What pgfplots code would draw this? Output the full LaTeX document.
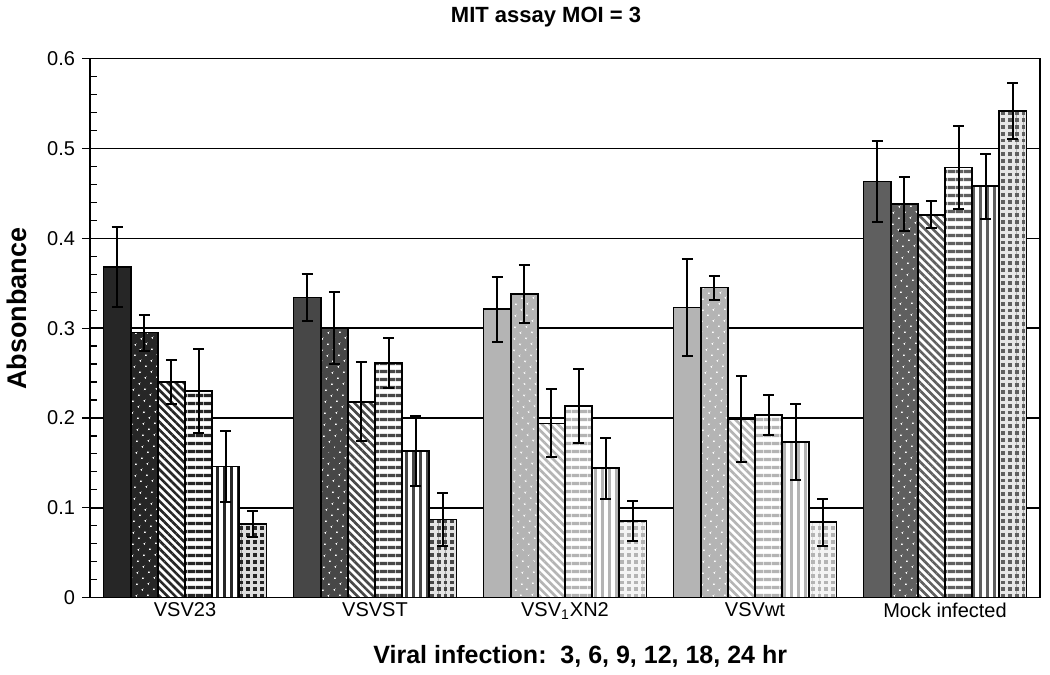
\documentclass[border=0pt]{standalone}
\usepackage{fontspec}
\setmainfont{Liberation Sans}
\usepackage{pgfplots}
\pgfplotsset{compat=1.18}
\usetikzlibrary{patterns,patterns.meta}
\definecolor{cA}{HTML}{262626}
\definecolor{cB}{HTML}{474747}
\definecolor{cC}{HTML}{B4B4B4}
\definecolor{cD}{HTML}{B4B4B4}
\definecolor{cE}{HTML}{5F5F5F}
\pgfplotsset{
  bb/.style={ybar, bar width=0.1429, bar shift=0pt, draw=black, line width=0.8pt},
  s1/.style={fill=#1},
  s2/.style={preaction={fill=#1}, pattern={Dots[distance=4pt,angle=45,radius=0.55pt]}, pattern color=white},
  s3/.style={preaction={fill=white}, pattern={Lines[angle=-45,distance=2.8pt,line width=1.3pt]}, pattern color=#1},
  s4/.style={preaction={fill=white}, pattern={Lines[angle=0,distance=4pt,line width=1.8pt]}, pattern color=#1},
  s5/.style={preaction={fill=white}, pattern={Lines[angle=90,distance=3.5pt,line width=1.5pt]}, pattern color=#1},
  s6/.style={preaction={fill=#1}, pattern={Hatch[angle=0,distance=3.4pt,line width=1.5pt]}, pattern color=white!85!#1},
}
\begin{document}
\begin{tikzpicture}
\begin{axis}[
  scale only axis, width=475pt, height=269.5pt,
  xmin=-0.5, xmax=4.5, ymin=0, ymax=0.6,
  ytick={0,0.1,0.2,0.3,0.4,0.5,0.6},
  minor y tick num=4,
  xtick={0,1,2,3,4},
  xticklabels={VSV23,VSVST,VSV\textsubscript{1}XN2,VSVwt,Mock infected},
  xtick style={draw=none},
  xticklabel style={yshift=5pt},
  ytick pos=left,
  tick align=outside,
  major tick length=4pt, minor tick length=3.5pt,
  ytick style={black, line width=0.6pt},
  minor y tick style={xshift=3.5pt},
  ymajorgrids, major grid style={black, line width=0.75pt},
  axis line style={black, line width=0.75pt},
  tick label style={font=\fontsize{10}{12}\selectfont},
  /pgf/number format/assume math mode=true,
]
\coordinate (ttl) at (rel axis cs:0.48,1);
\coordinate (xl) at (rel axis cs:0.516,0);
\coordinate (yl) at (rel axis cs:0,0.536);
\coordinate (bl) at (rel axis cs:0,0);
\coordinate (tr) at (rel axis cs:1,1);
% VSV23
\addplot[bb, s1=cA] coordinates {(-0.3571,0.368)};
\addplot[bb, s2=cA] coordinates {(-0.2143,0.295)};
\addplot[bb, s3=cA] coordinates {(-0.0714,0.240)};
\addplot[bb, s4=cA] coordinates {(0.0714,0.230)};
\addplot[bb, s5=cA] coordinates {(0.2143,0.146)};
\addplot[bb, s6=cA] coordinates {(0.3571,0.082)};
% VSVST
\addplot[bb, s1=cB] coordinates {(0.6429,0.334)};
\addplot[bb, s2=cB] coordinates {(0.7857,0.300)};
\addplot[bb, s3=cB] coordinates {(0.9286,0.218)};
\addplot[bb, s4=cB] coordinates {(1.0714,0.261)};
\addplot[bb, s5=cB] coordinates {(1.2143,0.163)};
\addplot[bb, s6=cB] coordinates {(1.3571,0.087)};
% VSV1XN2
\addplot[bb, s1=cC] coordinates {(1.6429,0.321)};
\addplot[bb, s2=cC] coordinates {(1.7857,0.338)};
\addplot[bb, s3=cC] coordinates {(1.9286,0.194)};
\addplot[bb, s4=cC] coordinates {(2.0714,0.213)};
\addplot[bb, s5=cC] coordinates {(2.2143,0.144)};
\addplot[bb, s6=cC] coordinates {(2.3571,0.085)};
% VSVwt
\addplot[bb, s1=cD] coordinates {(2.6429,0.323)};
\addplot[bb, s2=cD] coordinates {(2.7857,0.345)};
\addplot[bb, s3=cD] coordinates {(2.9286,0.199)};
\addplot[bb, s4=cD] coordinates {(3.0714,0.203)};
\addplot[bb, s5=cD] coordinates {(3.2143,0.173)};
\addplot[bb, s6=cD] coordinates {(3.3571,0.084)};
% Mock infected
\addplot[bb, s1=cE] coordinates {(3.6429,0.463)};
\addplot[bb, s2=cE] coordinates {(3.7857,0.438)};
\addplot[bb, s3=cE] coordinates {(3.9286,0.426)};
\addplot[bb, s4=cE] coordinates {(4.0714,0.479)};
\addplot[bb, s5=cE] coordinates {(4.2143,0.458)};
\addplot[bb, s6=cE] coordinates {(4.3571,0.542)};
% error bars
\addplot[draw=none, mark=none,
  error bars/y dir=both, error bars/y explicit,
  error bars/error bar style={black, line width=1pt, solid},
  error bars/error mark options={rotate=90, black, line width=1pt, mark size=2.75pt}]
coordinates {
(-0.3571,0.368) +- (0,0.045) (-0.2143,0.295) +- (0,0.020) (-0.0714,0.240) +- (0,0.024)
(0.0714,0.230) +- (0,0.047) (0.2143,0.146) +- (0,0.040) (0.3571,0.082) +- (0,0.014)
(0.6429,0.334) +- (0,0.026) (0.7857,0.300) +- (0,0.040) (0.9286,0.218) +- (0,0.044)
(1.0714,0.261) +- (0,0.028) (1.2143,0.163) +- (0,0.039) (1.3571,0.087) +- (0,0.030)
(1.6429,0.321) +- (0,0.036) (1.7857,0.338) +- (0,0.032) (1.9286,0.194) +- (0,0.038)
(2.0714,0.213) +- (0,0.041) (2.2143,0.144) +- (0,0.034) (2.3571,0.085) +- (0,0.022)
(2.6429,0.323) +- (0,0.054) (2.7857,0.345) +- (0,0.0135) (2.9286,0.199) +- (0,0.048)
(3.0714,0.203) +- (0,0.022) (3.2143,0.173) +- (0,0.042) (3.3571,0.084) +- (0,0.026)
(3.6429,0.463) +- (0,0.045) (3.7857,0.438) +- (0,0.030) (3.9286,0.426) +- (0,0.015)
(4.0714,0.479) +- (0,0.046) (4.2143,0.458) +- (0,0.036) (4.3571,0.542) +- (0,0.031)
};
\end{axis}
\node[font=\bfseries\fontsize{11}{13}\selectfont] at ([yshift=21pt]ttl) {MIT assay MOI = 3};
\node[font=\bfseries\fontsize{12.5}{15}\selectfont] at ([yshift=-29.5pt]xl) {Viral infection:\ \ 3, 6, 9, 12, 18, 24 hr};
\node[rotate=90, font=\bfseries\fontsize{13.5}{16}\selectfont] at ([xshift=-36.5pt]yl) {Absonbance};
\path ([xshift=-45pt,yshift=-38pt]bl) rectangle ([xshift=5pt,yshift=28.5pt]tr);
\end{tikzpicture}
\end{document}
